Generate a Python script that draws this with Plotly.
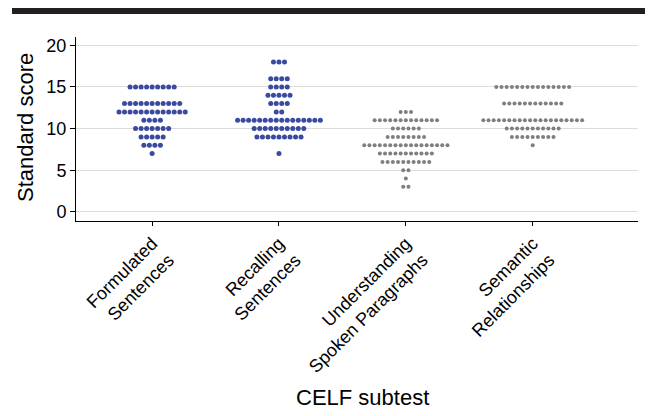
import plotly.graph_objects as go

categories = ["Formulated<br>Sentences", "Recalling<br>Sentences",
              "Understanding<br>Spoken Paragraphs", "Semantic<br>Relationships"]
colors = ["#3a4a9e", "#3a4a9e", "#7f7f7f", "#7f7f7f"]

# score levels and number of children at each level, per subtest
fs_scores = [15, 13, 12, 11, 10, 9, 8, 7]
fs_counts = [9, 11, 13, 4, 7, 5, 4, 1]
rs_scores = [18, 16, 15, 14, 13, 12, 11, 10, 9, 7]
rs_counts = [3, 4, 4, 5, 4, 2, 16, 10, 9, 1]
usp_scores = [12, 11, 10, 9, 8, 7, 6, 5, 4, 3]
usp_counts = [3, 13, 6, 8, 17, 11, 10, 2, 1, 2]
sr_scores = [15, 13, 11, 10, 9, 8]
sr_counts = [15, 12, 20, 11, 9, 1]

yticks = [0, 5, 10, 15, 20]

groups = [(fs_scores, fs_counts), (rs_scores, rs_counts),
          (usp_scores, usp_counts), (sr_scores, sr_counts)]
spacing = [0.0435, 0.0435, 0.041, 0.041]
sizes = [5, 5, 4, 4]

fig = go.Figure()
for ci, (sc, cn) in enumerate(groups):
    xs, ys = [], []
    for s, n in zip(sc, cn):
        for i in range(n):
            xs.append(ci + (i - (n - 1) / 2) * spacing[ci])
            ys.append(s)
    fig.add_trace(go.Scatter(x=xs, y=ys, mode="markers",
                             marker=dict(color=colors[ci], size=sizes[ci], line=dict(width=0)),
                             showlegend=False, hoverinfo="y"))

# the page body adds an 8 px offset, so figure coords = screen coords - 8
L, T, R, B = 68, 29, 630, 213
W, H = R - L, B - T
fig.update_layout(
    width=655, height=416,
    margin=dict(l=L, r=655 - R, t=T, b=416 - B),
    plot_bgcolor="white", paper_bgcolor="white",
    font=dict(family="Liberation Sans, Arial, sans-serif", color="black"),
    xaxis=dict(range=[-0.6, 3.83], tickvals=[0, 1, 2, 3], ticktext=categories,
               tickangle=-45, tickfont=dict(size=18), showgrid=False, automargin=False,
               showline=True, linecolor="black", linewidth=1,
               ticks="outside", ticklen=4, tickcolor="black", zeroline=False),
    yaxis=dict(range=[-1.1, 21], tickvals=yticks, tickfont=dict(size=18), automargin=False,
               showgrid=True, gridcolor="#dcdcdc", gridwidth=1,
               showline=True, linecolor="black", linewidth=1,
               ticks="outside", ticklen=5, tickcolor="black", zeroline=False),
    shapes=[dict(type="rect", xref="paper", yref="paper",
                 x0=(4 - L) / W, x1=(637 - L) / W, y0=1 + (T - 6) / H,
                 y1=1 + T / H, fillcolor="#231f20", line=dict(width=0))],
    annotations=[
        dict(text="CELF subtest", xref="paper", yref="paper",
             x=(354 - L) / W, y=-(389 - B) / H, showarrow=False,
             font=dict(size=22), xanchor="center", yanchor="middle"),
        dict(text="Standard score", xref="paper", yref="paper",
             x=-(L - 17) / W, y=(B - 120) / H, showarrow=False, textangle=-90,
             font=dict(size=22), xanchor="center", yanchor="middle"),
    ],
)

fig.write_html("out.html")
